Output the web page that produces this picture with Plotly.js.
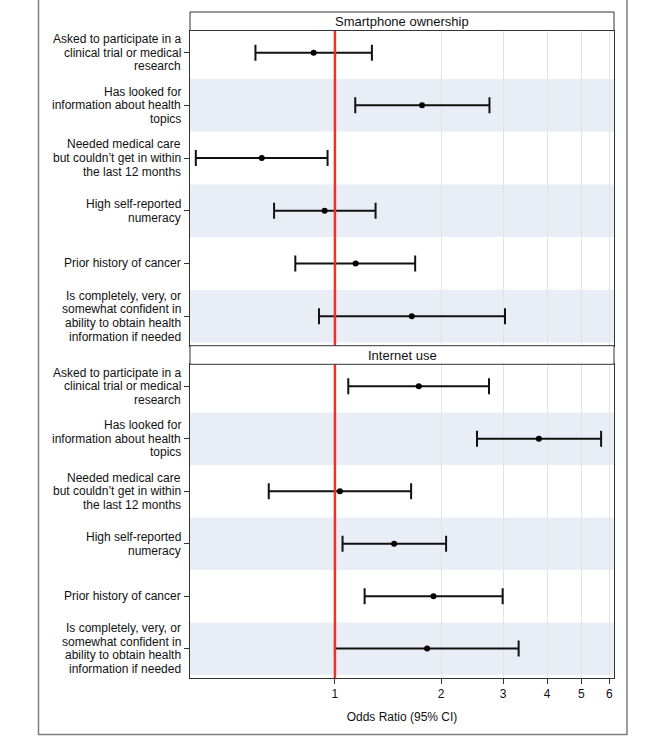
<!DOCTYPE html>
<html>
<head>
<meta charset="utf-8">
<script src="https://cdn.plot.ly/plotly-3.0.1.min.js"></script>
<style>
  html, body { margin: 0; padding: 0; background: #fff; }
  #chart { width: 666px; height: 737px; }
</style>
</head>
<body>
<div id="chart"></div>
<script>
// ---------- data ----------
const categories = [
  "Asked to participate in a<br>clinical trial or medical<br>research",
  "Has looked for<br>information about health<br>topics",
  "Needed medical care<br>but couldn’t get in within<br>the last 12 months",
  "High self-reported<br>numeracy",
  "Prior history of cancer",
  "Is completely, very, or<br>somewhat confident in<br>ability to obtain health<br>information if needed"
];
const panelTitles = ["Smartphone ownership", "Internet use"];

const smartphoneOR    = [0.870, 1.767, 0.620, 0.935, 1.145, 1.652];
const smartphoneLower = [0.595, 1.142, 0.403, 0.672, 0.772, 0.901];
const smartphoneUpper = [1.273, 2.744, 0.953, 1.304, 1.689, 3.037];

const internetOR    = [1.730, 3.79, 1.033, 1.472, 1.904, 1.826];
const internetLower = [1.091, 2.53, 0.649, 1.051, 1.214, 1.000];
const internetUpper = [2.736, 5.69, 1.645, 2.067, 2.991, 3.32];

const xTickVals = [1, 2, 3, 4, 5, 6];
const xTickText = ["1", "2", "3", "4", "5", "6"];
const referenceOR = 1;
const xTitle = "Odds Ratio (95% CI)";

// ---------- layout geometry (pixels) ----------
const W = 666, H = 737;
const M = { l: 190, r: 52, t: 12, b: 59 };
const PW = W - M.l - M.r, PH = H - M.t - M.b;
const py = (pix) => (H - M.b - pix) / PH;       // pixel y -> paper y
const px = (pix) => (pix - M.l) / PW;           // pixel x -> paper x

const topHeader = [12, 30.5];
const topPanel = [30.5, 345.7];
const botHeader = [345.7, 364.3];
const botPanel = [364.3, 678];
const yRange = [5.56, -0.42];

const FONT = "Liberation Sans, Arial, sans-serif";
const BAND = "#e9edf5";
const AXC = "#333333";
const LABEL_SIZE = 12, LABEL_LINE = 13.6;

function trace(or, lo, hi, xa, ya) {
  return {
    type: "scatter", mode: "markers",
    x: or, y: categories, xaxis: xa, yaxis: ya,
    marker: { color: "#000", size: 6 },
    error_x: {
      type: "data", symmetric: false,
      array: hi.map((h, i) => h - or[i]),
      arrayminus: lo.map((l, i) => or[i] - l),
      color: "#111", thickness: 2, width: 8
    },
    hoverinfo: "skip", showlegend: false, cliponaxis: false
  };
}

const data = [
  trace(smartphoneOR, smartphoneLower, smartphoneUpper, "x2", "y"),
  trace(internetOR, internetLower, internetUpper, "x", "y2")
];

const xRange = [Math.log10(0.388), Math.log10(6.19)];

const yCommon = {
  type: "category", categoryorder: "array", categoryarray: categories,
  range: yRange, showgrid: false, zeroline: false,
  showline: true, mirror: true, linecolor: AXC, linewidth: 1,
  ticks: "outside", ticklen: 5, tickcolor: AXC, tickwidth: 1,
  showticklabels: false
};
const xCommon = {
  type: "log", range: xRange, tickvals: xTickVals, ticktext: xTickText,
  showgrid: true, gridcolor: "#e3e3e3", gridwidth: 1, zeroline: false,
  showline: true, mirror: true, linecolor: AXC, linewidth: 1
};

const shapes = [];
// alternating bands
["y", "y2"].forEach((ya) => {
  [1, 3, 5].forEach((k) => {
    shapes.push({ type: "rect", layer: "below", xref: "paper", yref: ya,
      x0: 0, x1: 1, y0: k - 0.5, y1: Math.min(k + 0.5, yRange[0]),
      fillcolor: BAND, line: { width: 0 } });
  });
});
// reference line at OR = 1
[["x2", "y"], ["x", "y2"]].forEach(([xa, ya]) => {
  shapes.push({ type: "line", xref: xa, yref: ya + " domain",
    x0: referenceOR, x1: referenceOR, y0: 0, y1: 1,
    line: { color: "#e8342a", width: 2.5 } });
});
// panel headers
[topHeader, botHeader].forEach((hd) => {
  shapes.push({ type: "rect", xref: "paper", yref: "paper",
    x0: 0, x1: 1, y0: py(hd[1]), y1: py(hd[0]),
    fillcolor: "#fff", line: { color: AXC, width: 1 } });
});
// outer frame
shapes.push({ type: "rect", xref: "paper", yref: "paper",
  x0: px(38.5), x1: px(627), y0: py(734.5), y1: py(-2),
  fillcolor: "rgba(0,0,0,0)", line: { color: "#7f7f7f", width: 1.5 } });

const annotations = [
  { text: panelTitles[0], xref: "paper", yref: "paper", x: 0.5,
    y: py((topHeader[0] + topHeader[1]) / 2), showarrow: false,
    xanchor: "center", yanchor: "middle", font: { family: FONT, size: 13, color: "#111" } },
  { text: panelTitles[1], xref: "paper", yref: "paper", x: 0.5,
    y: py((botHeader[0] + botHeader[1]) / 2), showarrow: false,
    xanchor: "center", yanchor: "middle", font: { family: FONT, size: 13, color: "#111" } }
];
// category labels, right-aligned, one line at a time for tight line spacing
["y", "y2"].forEach((ya) => {
  categories.forEach((cat, i) => {
    const lines = cat.split("<br>");
    const n = lines.length;
    lines.forEach((ln, j) => {
      annotations.push({
        text: ln, xref: "paper", yref: ya, x: px(183), y: i,
        xanchor: "right", yanchor: "middle", showarrow: false,
        yshift: ((n - 1) / 2 - j) * LABEL_LINE,
        font: { family: FONT, size: LABEL_SIZE, color: "#111" }
      });
    });
  });
});

const layout = {
  width: W, height: H,
  margin: M,
  paper_bgcolor: "#fff", plot_bgcolor: "#fff",
  showlegend: false,
  font: { family: FONT, color: "#111" },
  xaxis: Object.assign({}, xCommon, {
    anchor: "y2", ticks: "outside", ticklen: 5, tickcolor: AXC,
    tickfont: { family: FONT, size: 12, color: "#111" },
    title: { text: xTitle, font: { family: FONT, size: 12, color: "#111" }, standoff: 12 }
  }),
  xaxis2: Object.assign({}, xCommon, {
    anchor: "y", matches: "x", showticklabels: false, ticks: ""
  }),
  yaxis: Object.assign({}, yCommon, { domain: [py(topPanel[1]), py(topPanel[0])], anchor: "x2" }),
  yaxis2: Object.assign({}, yCommon, { domain: [py(botPanel[1]), py(botPanel[0])], anchor: "x" }),
  shapes: shapes,
  annotations: annotations
};

Plotly.newPlot("chart", data, layout, { displayModeBar: false, staticPlot: true });
</script>
</body>
</html>
